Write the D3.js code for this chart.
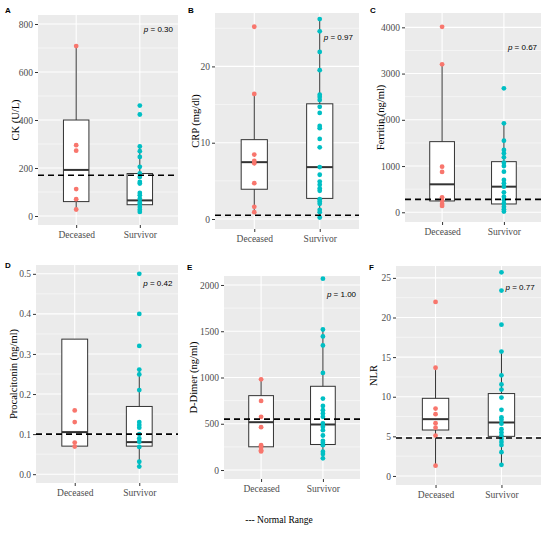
<!DOCTYPE html>
<html>
<head>
<meta charset="utf-8">
<script src="https://cdn.jsdelivr.net/npm/d3@7"></script>
<style>
    body { margin: 0; background: #fff; }
</style>
</head>
<body>
<div id="chart"></div>
<script>
// ---- data ----
var groups = ['Deceased', 'Survivor'];
var panelLetters = ['A', 'B', 'C', 'D', 'E', 'F'];
var yTitles = ['CK (U/L)', 'CRP (mg/dl)', 'Ferritin (ng/ml)', 'Procalcitonin (ng/ml)', 'D-Dimer (ng/ml)', 'NLR'];
var pValues = ['0.30', '0.97', '0.67', '0.42', '1.00', '0.77'];
var normalRange = [170, 0.5, 280, 0.1, 550, 4.8];

var yTicks = [
    [0, 200, 400, 600, 800],
    [0, 10, 20],
    [0, 1000, 2000, 3000, 4000],
    [0, 0.1, 0.2, 0.3, 0.4, 0.5],
    [0, 500, 1000, 1500, 2000],
    [0, 5, 10, 15, 20, 25]
];
var yLimits = [
    [-37.5, 837.5],
    [-1.31, 27.0],
    [-210, 4310],
    [-0.022, 0.522],
    [-97, 2097],
    [-1.14, 26.5]
];

// box stats: [lower whisker, q1, median, q3, upper whisker] for Deceased, Survivor
var boxStats = [
    [[27, 60, 192, 400, 708], [17, 47, 65, 177, 290]],
    [[0.9, 3.9, 7.45, 10.4, 16.4], [0.2, 2.7, 6.8, 15.1, 26.2]],
    [[137, 245, 605, 1528, 3200], [15, 180, 554, 1095, 1924]],
    [[0.069, 0.07, 0.105, 0.337, 0.337], [0.019, 0.07, 0.08, 0.169, 0.261]],
    [[201, 251, 517, 804, 980], [126, 276, 492, 905, 1519]],
    [[1.3, 5.8, 7.17, 9.8, 13.66], [1.4, 5.0, 6.75, 10.4, 15.7]]
];

var ckDeceased = [708, 295, 272, 112, 70, 27];
var ckSurvivor = [460, 423, 290, 270, 246, 205, 177, 163, 142, 135, 96, 86, 72, 58, 51, 38, 26, 17];
var crpDeceased = [25.2, 16.4, 8.45, 7.6, 7.3, 4.7, 1.6, 0.9];
var crpSurvivor = [26.2, 24.6, 21.9, 19.5, 16.3, 16.0, 15.6, 14.7, 13.9, 12.2, 11.9, 10.5, 9.4, 6.8, 5.8, 4.9, 4.5, 4.0, 3.7, 2.6, 2.3, 2.0, 1.2, 0.9, 0.2];
var ferritinDeceased = [4010, 3200, 987, 872, 324, 252, 180, 137];
var ferritinSurvivor = [2681, 1924, 1548, 1347, 1276, 1189, 1073, 1001, 878, 698, 627, 554, 432, 338, 266, 194, 122, 65, 15];
var pctDeceased = [0.159, 0.130, 0.079, 0.069];
var pctSurvivor = [0.5, 0.4, 0.32, 0.261, 0.249, 0.21, 0.13, 0.123, 0.116, 0.1, 0.089, 0.081, 0.068, 0.031, 0.019];
var ddimerDeceased = [980, 747, 575, 463, 269, 244, 215, 201];
var ddimerSurvivor = [2068, 1519, 1444, 1347, 1049, 772, 693, 646, 610, 575, 503, 467, 431, 373, 316, 294, 269, 198, 172, 126];
var nlrDeceased = [21.96, 13.66, 8.5, 7.8, 6.66, 6.1, 5.1, 1.3];
var nlrSurvivor = [25.7, 23.4, 19.1, 15.7, 12.7, 11.55, 10.9, 9.9, 8.35, 7.4, 7.1, 6.6, 5.9, 5.5, 5.1, 4.7, 4.3, 3.9, 3.0, 1.4];

var points = [
    [ckDeceased, ckSurvivor],
    [crpDeceased, crpSurvivor],
    [ferritinDeceased, ferritinSurvivor],
    [pctDeceased, pctSurvivor],
    [ddimerDeceased, ddimerSurvivor],
    [nlrDeceased, nlrSurvivor]
];

var chart = (function(){
    var _colors = ['#F8766D', '#00BFC4'];
    var _serif = '"Liberation Serif", "Times New Roman", serif',
        _sans = '"Liberation Sans", Arial, sans-serif';

    // panel rectangles (pixels), y-title x, letter position, p-label offset from panel top
    var _layout = [
        {x0: 38,  x1: 178, y0: 15,  y1: 225, titleX: 15,  lx: 5,   ly: 13,  pdy: 17},
        {x0: 215, x1: 359, y0: 13,  y1: 229, titleX: 195, lx: 188, ly: 13,  pdy: 27},
        {x0: 405, x1: 541, y0: 13,  y1: 222, titleX: 380, lx: 370, ly: 13,  pdy: 37},
        {x0: 36,  x1: 178, y0: 265, y1: 483, titleX: 13,  lx: 5,   ly: 268, pdy: 21},
        {x0: 224, x1: 360, y0: 276, y1: 479, titleX: 193, lx: 187, ly: 270, pdy: 21},
        {x0: 396, x1: 541, y0: 266, y1: 485, titleX: 373, lx: 369, ly: 270, pdy: 24}
    ];

    var _svg = null;

    function init(){
        _svg = d3.select('#chart').append('svg')
            .attr('width', 550)
            .attr('height', 535);
    }

    function drawAll(){
        for(var i = 0; i < _layout.length; i++){
            _drawOne(i);
        }

        _svg.append('text')
            .attr('x', 279)
            .attr('y', 523)
            .attr('text-anchor', 'middle')
            .attr('font-family', _serif)
            .attr('font-size', '9.5px')
            .attr('fill', '#000')
            .text('--- Normal Range');
    }

    function _drawOne(i){
        var L = _layout[i];
        var g = _svg.append('g');

        var x = d3.scalePoint().domain(groups).range([L.x0, L.x1]).padding(0.6);
        var y = d3.scaleLinear().domain(yLimits[i]).range([L.y1, L.y0]);
        var boxW = x.step() * 0.4;

        // background + grid
        g.append('rect')
            .attr('x', L.x0).attr('y', L.y0)
            .attr('width', L.x1 - L.x0).attr('height', L.y1 - L.y0)
            .attr('fill', '#EBEBEB');

        var ticks = yTicks[i];
        var step = ticks[1] - ticks[0];
        var minor = ticks.map(function(t){ return t - step / 2; })
            .concat([ticks[ticks.length - 1] + step / 2])
            .filter(function(v){ return v > yLimits[i][0] && v < yLimits[i][1]; });

        g.selectAll('line.minor').data(minor).enter().append('line')
            .attr('x1', L.x0).attr('x2', L.x1)
            .attr('y1', function(d){ return y(d); }).attr('y2', function(d){ return y(d); })
            .attr('stroke', '#fff').attr('stroke-width', 0.5);

        g.selectAll('line.major').data(ticks).enter().append('line')
            .attr('x1', L.x0).attr('x2', L.x1)
            .attr('y1', function(d){ return y(d); }).attr('y2', function(d){ return y(d); })
            .attr('stroke', '#fff').attr('stroke-width', 1.1);

        g.selectAll('line.vgrid').data(groups).enter().append('line')
            .attr('x1', function(d){ return x(d); }).attr('x2', function(d){ return x(d); })
            .attr('y1', L.y0).attr('y2', L.y1)
            .attr('stroke', '#fff').attr('stroke-width', 1.1);

        // boxes
        var stats = boxStats[i];
        var boxes = g.selectAll('g.box').data(groups).enter().append('g');

        boxes.append('line')
            .attr('x1', function(d){ return x(d); }).attr('x2', function(d){ return x(d); })
            .attr('y1', function(d, j){ return y(stats[j][0]); })
            .attr('y2', function(d, j){ return y(stats[j][4]); })
            .attr('stroke', '#333').attr('stroke-width', 1);

        boxes.append('rect')
            .attr('x', function(d){ return x(d) - boxW / 2; })
            .attr('width', boxW)
            .attr('y', function(d, j){ return y(stats[j][3]); })
            .attr('height', function(d, j){ return y(stats[j][1]) - y(stats[j][3]); })
            .attr('fill', '#fff').attr('stroke', '#333').attr('stroke-width', 1);

        boxes.append('line')
            .attr('x1', function(d){ return x(d) - boxW / 2; })
            .attr('x2', function(d){ return x(d) + boxW / 2; })
            .attr('y1', function(d, j){ return y(stats[j][2]); })
            .attr('y2', function(d, j){ return y(stats[j][2]); })
            .attr('stroke', '#333').attr('stroke-width', 2);

        // points
        groups.forEach(function(grp, j){
            g.selectAll(null).data(points[i][j]).enter().append('circle')
                .attr('cx', x(grp))
                .attr('cy', function(d){ return y(d); })
                .attr('r', 2.4)
                .attr('fill', _colors[j]);
        });

        // normal range line
        g.append('line')
            .attr('x1', L.x0).attr('x2', L.x1)
            .attr('y1', y(normalRange[i])).attr('y2', y(normalRange[i]))
            .attr('stroke', '#000').attr('stroke-width', 1.6)
            .attr('stroke-dasharray', '6,4');

        // axes
        var yAxis = d3.axisLeft(y).tickValues(ticks).tickSize(3).tickPadding(2)
            .tickFormat(d3.format(i === 3 ? '.1f' : 'd'));
        var ya = g.append('g').attr('transform', 'translate(' + L.x0 + ',0)').call(yAxis);
        var xa = g.append('g').attr('transform', 'translate(0,' + L.y1 + ')')
            .call(d3.axisBottom(x).tickSize(3).tickPadding(3));

        [ya, xa].forEach(function(a){
            a.select('.domain').remove();
            a.selectAll('line').attr('stroke', '#333');
            a.selectAll('text')
                .attr('fill', '#4D4D4D')
                .attr('font-family', _serif)
                .attr('font-size', '9.5px');
        });

        // y title
        g.append('text')
            .attr('transform', 'translate(' + L.titleX + ',' + ((L.y0 + L.y1) / 2) + ') rotate(-90)')
            .attr('dy', '0.35em')
            .attr('text-anchor', 'middle')
            .attr('font-family', _serif)
            .attr('font-size', '10.5px')
            .attr('fill', '#000')
            .text(yTitles[i]);

        // panel letter
        g.append('text')
            .attr('x', L.lx).attr('y', L.ly)
            .attr('font-family', _sans)
            .attr('font-weight', 'bold')
            .attr('font-size', '8px')
            .text(panelLetters[i]);

        // p value
        var pt = g.append('text')
            .attr('x', x(groups[1]) + 4)
            .attr('y', L.y0 + L.pdy)
            .attr('font-family', _sans)
            .attr('font-size', '8px')
            .attr('fill', '#000');
        pt.append('tspan').attr('font-style', 'italic').text('p');
        pt.append('tspan').text(' = ' + pValues[i]);
    }

    return {
        init: init,
        drawAll: drawAll
    };
})();

chart.init();
chart.drawAll();
</script>
</body>
</html>
